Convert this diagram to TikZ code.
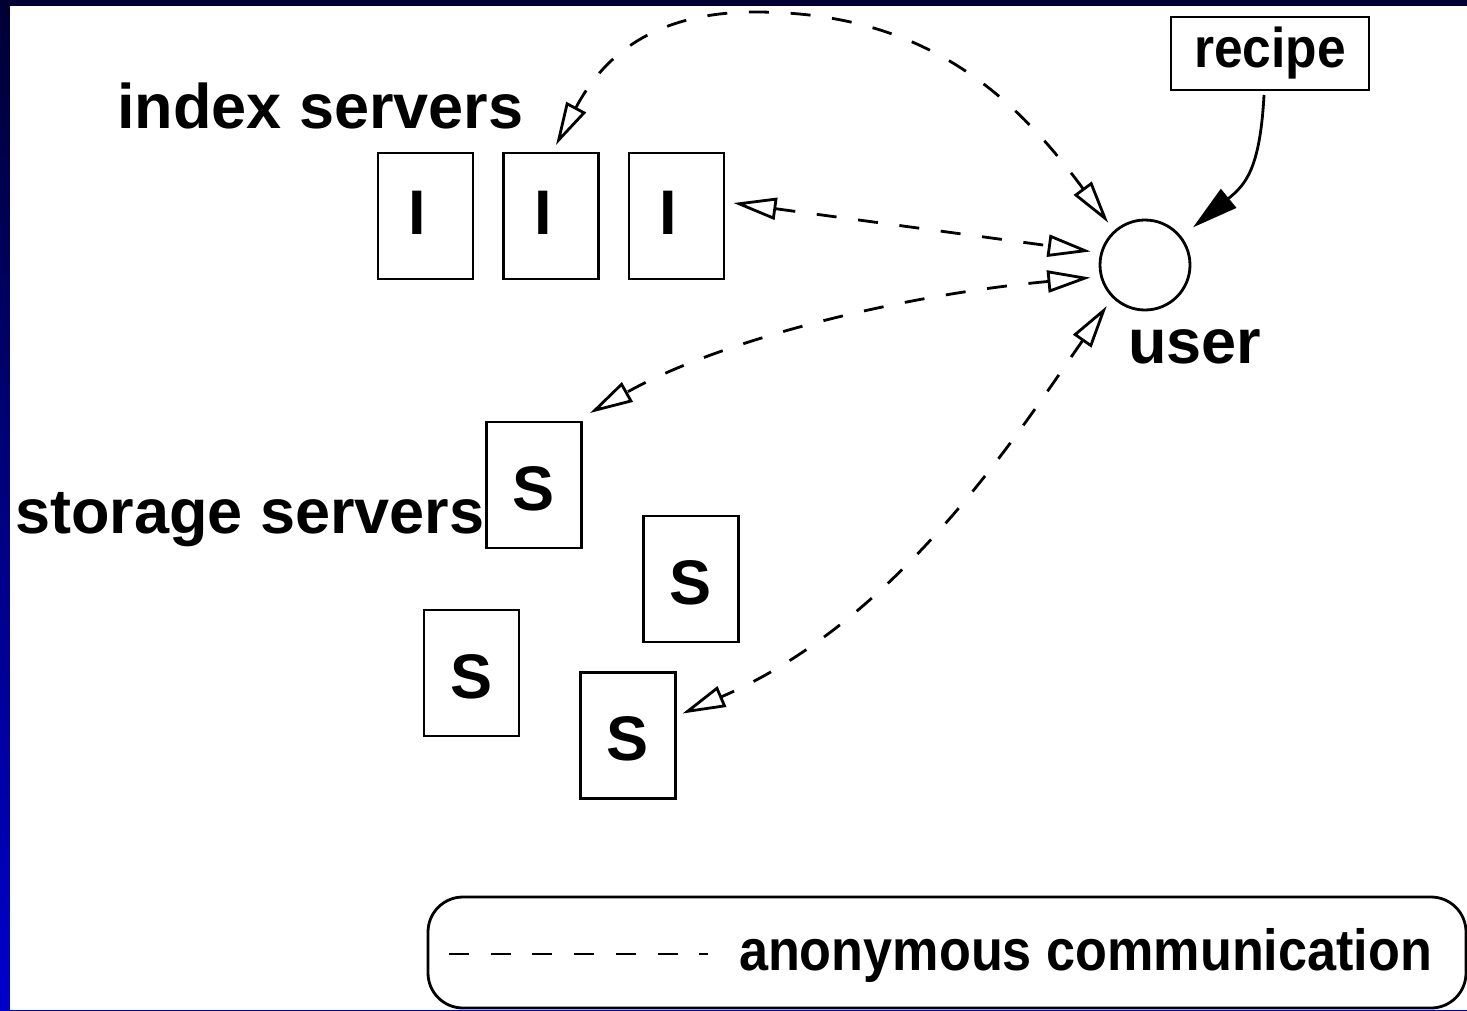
\documentclass[tikz,border=0pt]{standalone}
\usepackage{fontspec}
\setmainfont{Liberation Sans}
\newfontfamily\recipesans{Liberation Sans}[FakeStretch=0.92]
\newfontfamily\legendsans{Liberation Sans}[FakeStretch=0.9]
\usetikzlibrary{arrows.meta}

\definecolor{slidenavy}{RGB}{0,0,51}
\definecolor{slideblue}{RGB}{0,0,204}

\begin{document}
\begin{tikzpicture}[x=1pt,y=-1pt,
  every node/.style={inner sep=0pt, outer sep=0pt},
  strokew/.style={line width=2.8pt},
  server/.style={draw, strokew, minimum width=95pt, minimum height=126pt,
    font=\bfseries\fontsize{63}{63}\selectfont},
  indexbox/.style={server, text height=47pt, text depth=11pt},
  storagebox/.style={server, text height=50pt, text depth=0pt},
  biglabel/.style={anchor=base west, font=\bfseries\fontsize{63}{63}\selectfont},
  anon/.style={strokew, dash pattern=on 20pt off 21.7pt, {Triangle[open, length=43pt, width=22pt]}-{Triangle[open, length=43pt, width=22pt]}},
]
\useasboundingbox (0,0) rectangle (1467,1010);

% slide background: blue gradient frame with white working area
\shade[top color=slidenavy, bottom color=slideblue] (0,0) rectangle (1467,1010);
\fill[white] (10,6) rectangle (1467,1010);

% index servers
\node[biglabel] (indexlabel) at (117,128) {index servers};
\node[indexbox] (I1) at (425.5,216) {I\kern16pt};
\node[indexbox] (I2) at (551,216) {I\kern16pt};
\node[indexbox] (I3) at (676.5,216) {I\kern16pt};

% storage servers
\node[biglabel] (storagelabel) at (15,533) {storage servers};
\node[storagebox] (S1) at (534,485) {S};
\node[storagebox] (S2) at (691,579) {S};
\node[storagebox] (S3) at (471.5,673) {S};
\node[storagebox] (S4) at (628,735.5) {S};

% user and recipe
\node[draw, strokew, circle, minimum size=90pt, outer sep=11pt] (user) at (1145,265) {};
\node[biglabel] (userlabel) at (1128,363) {user};
\node[draw, strokew, minimum width=198pt, minimum height=73pt,
      text height=40pt, text depth=13pt,
      font=\recipesans\bfseries\fontsize{56}{56}\selectfont] (recipe) at (1270,53.5) {recipe};

% anonymous communication links
\coordinate (arctop) at (755,12);
\draw[anon] ([xshift=5pt,yshift=8pt]I2.north) .. controls (596,70) and (640,12) .. (arctop)
            .. controls (920,12) and (1010,90) .. (user.131);
\draw[anon] ([xshift=9.5pt,yshift=13pt]I3.east) -- (user.166);
\draw[anon] (user.193) .. controls (900,295) and (720,340) .. ([xshift=8.5pt,yshift=9pt]S1.north east);
\draw[anon] (user.227) .. controls (1020,430) and (900,620) .. ([xshift=7pt,yshift=22pt]S4.east);

% recipe handed to the user
\draw[strokew, -{Triangle[length=46pt, width=24pt]}, shorten >=5pt]
  ([xshift=-6pt,yshift=-5pt]recipe.south) .. controls (1260,170) and (1245,185) .. (user.38);

% legend
\node[draw, strokew, rounded corners=35pt, minimum width=1038pt, minimum height=111pt] (legend) at (947,952.5) {};
\coordinate (sampleA) at (449,954);
\coordinate (sampleB) at (708,954);
\draw[strokew, dash pattern=on 20pt off 21.7pt] (sampleA) -- (sampleB);
\node[anchor=base west, font=\legendsans\bfseries\fontsize{58}{58}\selectfont] (legendtext) at (739,970) {anonymous communication};
\end{tikzpicture}
\end{document}
